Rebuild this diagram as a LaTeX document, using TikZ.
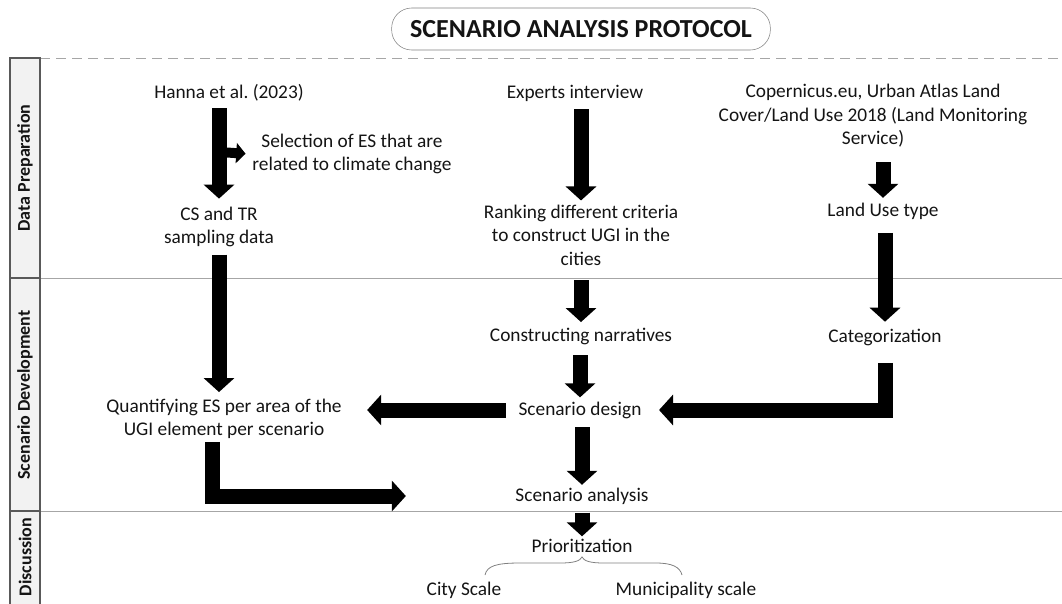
\documentclass[tikz,border=0pt]{standalone}
\usepackage{fontspec}
\setmainfont{Carlito}
\usetikzlibrary{arrows.meta,positioning,calc}
\definecolor{lineg}{HTML}{A6A6A6}
\definecolor{lanefill}{HTML}{F2F2F2}
\definecolor{lanedraw}{HTML}{595959}
\definecolor{txtc}{HTML}{141414}
\frenchspacing

\begin{document}
\begin{tikzpicture}[x=0.75pt, y=-0.75pt,
    txt/.style={align=center,text=txtc,inner sep=2pt,font=\fontsize{14.5}{17.6}\selectfont},
    title/.style={draw=gray,rounded corners=15pt,minimum width=284pt,minimum height=31.5pt,text=txtc,font=\bfseries\fontsize{19.5}{22}\selectfont},
    lane/.style={draw=lanedraw,fill=lanefill,thick},
    lanetext/.style={rotate=90,text=txtc,font=\bfseries\fontsize{13.5}{16}\selectfont},
    blk/.style={line width=11.25pt,-{Triangle[width=22.5pt,length=10.5pt]}},
    blkbend/.style={blk,line join=miter},
    smallblk/.style={line width=7.5pt,-{Triangle[width=15pt,length=7pt]}},
    brace/.style={draw=gray,semithick}]
  \useasboundingbox (0,0) rectangle (1062,603);
  \node[title] at (581,29) (head) {SCENARIO ANALYSIS PROTOCOL};
  \draw[lineg,dash pattern=on 7.5pt off 4.5pt] (40,58) -- (1062,58);
  \draw[lineg] (40,278) -- (1062,278);
  \draw[lineg] (40,511) -- (1062,511);
  \draw[lane] (10,58) rectangle (40,278);
  \draw[lane] (10,278) rectangle (40,511);
  \draw[lane] (10,511) rectangle (40,610);
  \node[lanetext] at (25,168) (prep) {Data Preparation};
  \node[lanetext] at (25,395) (devel) {Scenario Development};
  \node[lanetext] at (25,557) (disc) {Discussion};

  \node[txt] at (229,93) (hanna) {Hanna et al. (2023)};
  \node[txt] at (352,154) (select) {Selection of ES that are\\related to climate change};
  \node[txt] at (219,227) (cs) {CS and TR\\sampling data};
  \node[txt] at (224,419) (quant) {Quantifying ES per area of the\\UGI element per scenario};
  \node[txt] at (575,93) (experts) {Experts interview};
  \node[txt] at (581,235) (rank) {Ranking different criteria\\to construct UGI in the\\cities};
  \node[txt] at (581,336) (narr) {Constructing narratives};
  \node[txt] at (580,410) (design) {Scenario design};
  \node[txt] at (582,496) (analysis) {Scenario analysis};
  \node[txt] at (582,546) (prior) {Prioritization};
  \node[txt] at (464,590) (city) {City Scale};
  \node[txt] at (686,590) (muni) {Municipality scale};
  \node[txt] at (873,116) (coper) {Copernicus.eu, Urban Atlas Land\\Cover/Land Use 2018 (Land Monitoring\\Service)};
  \node[txt] at (883,211) (landuse) {Land Use type};
  \node[txt] at (885,337) (categ) {Categorization};

  \coordinate (fork) at (219,152);
  \draw[smallblk,shorten >=3pt] (fork) -- (select.west);
  \draw[blk,shorten <=3pt,shorten >=4pt] (hanna.south -| cs.north) -- (cs.north);
  \draw[blk,shorten <=3.5pt,shorten >=3pt] (cs.south) -- (cs.south |- quant.north);
  \draw[blkbend,shorten >=80pt] ($(quant.south)+(-12,0)$) |- (analysis.west);
  \draw[blk,shorten <=4pt,shorten >=1pt] (experts.south -| rank.north) -- (rank.north);
  \draw[blk,shorten <=9pt,shorten >=2pt] (rank.south -| narr.north) -- (narr.north);
  \draw[blk,shorten <=6pt,shorten >=1pt] (narr.south -| design.north) -- (design.north);
  \draw[blk,shorten <=4.5pt] (design.south -| analysis.north) -- (analysis.north);
  \draw[blk,shorten <=4pt] (analysis.south) -- (prior.north);
  \draw[blk,shorten <=7.5pt,shorten >=17pt] (design.west) -- (design.west -| quant.east);
  \draw[blk,shorten <=9pt,shorten >=1.5pt] (coper.south -| landuse.north) -- (landuse.north);
  \draw[blk,shorten <=8pt,shorten >=3pt] (landuse.south -| categ.north) -- (categ.north);
  \draw[blkbend,shorten <=11pt,shorten >=11pt] (categ.south) |- (design.east);

  \draw[brace] (485,575) .. controls (487,566) and (496,563) .. (520,563) -- (560,563)
    .. controls (574,563) and (580,561) .. (582,557)
    .. controls (584,561) and (590,563) .. (604,563) -- (656,563)
    .. controls (672,563) and (680,567) .. (682,575);
\end{tikzpicture}
\end{document}
